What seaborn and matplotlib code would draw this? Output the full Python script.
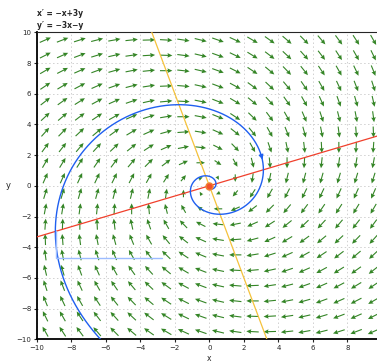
import numpy as np
import matplotlib
matplotlib.use('Agg')
import matplotlib.pyplot as plt
import seaborn as sns
import pandas as pd

# system x' = a*x + b*y, y' = c*x + d*y
coef_a, coef_b, coef_c, coef_d = -1.0, 3.0, -3.0, -1.0

# arrow grid
grid_x = np.arange(-9.5, 10, 1.0)
grid_y = np.arange(-9.5, 10, 1.0)

# trajectory start (marked with a direction arrow)
start_pt = (3.0, 2.0)

# highlighted guide line (light blue)
guide_x = [-8.9, -8.9, -2.76]
guide_y = [-2.97, -4.72, -4.72]

x_ticks = [-10, -8, -6, -4, -2, 0, 2, 4, 6, 8]
y_ticks = [-10, -8, -6, -4, -2, 0, 2, 4, 6, 8, 10]


def field(x, y):
    return coef_a * x + coef_b * y, coef_c * x + coef_d * y


def integrate(p, t_end, n=4000):
    h = t_end / n
    pts = [p]
    x, y = p
    for _ in range(n):
        k1 = field(x, y)
        k2 = field(x + h / 2 * k1[0], y + h / 2 * k1[1])
        k3 = field(x + h / 2 * k2[0], y + h / 2 * k2[1])
        k4 = field(x + h * k3[0], y + h * k3[1])
        x = x + h / 6 * (k1[0] + 2 * k2[0] + 2 * k3[0] + k4[0])
        y = y + h / 6 * (k1[1] + 2 * k2[1] + 2 * k3[1] + k4[1])
        pts.append((x, y))
    return np.array(pts)


sns.set_style('ticks')
plt.rcParams['font.family'] = ['DejaVu Sans']

fig = plt.figure(figsize=(3.77, 3.63), dpi=100)
ax = fig.add_axes([0.0973, 0.0653, 0.916, 0.8457])

# vector field
X, Y = np.meshgrid(grid_x, grid_y)
U, V = field(X, Y)
mag = np.hypot(U, V)
length = 0.72 * np.tanh(mag / 6.0)
U = U / mag * length
V = V / mag * length
ax.quiver(X, Y, U, V, color='#348526', pivot='mid', angles='xy',
          scale_units='xy', scale=1, width=0.0032, headwidth=4.2,
          headlength=4.5, headaxislength=4, zorder=2)

# nullclines
xs = np.array([-10.0, 10.0])
null_x = pd.DataFrame({'x': xs, 'y': -coef_a / coef_b * xs})
sns.lineplot(data=null_x, x='x', y='y', color='#f0402c', lw=0.9, ax=ax,
             sort=False, zorder=3)
ys = np.array([-10.0, 10.0])
null_y = pd.DataFrame({'x': -coef_d / coef_c * ys, 'y': ys})
sns.lineplot(data=null_y, x='x', y='y', color='#f5c23c', lw=0.9, ax=ax,
             sort=False, zorder=3)

# trajectory
back = integrate(start_pt, -1.3)[::-1]
fwd = integrate(start_pt, 9.0)
traj = np.vstack([back, fwd[1:]])
traj_df = pd.DataFrame({'x': traj[:, 0], 'y': traj[:, 1]})
sns.lineplot(data=traj_df, x='x', y='y', color='#1f5ff0', lw=1.0, ax=ax,
             sort=False, zorder=4)
du, dv = field(*start_pt)
nrm = np.hypot(du, dv)
ax.annotate('', xy=(start_pt[0] + du / nrm * 0.3, start_pt[1] + dv / nrm * 0.3),
            xytext=start_pt,
            arrowprops=dict(arrowstyle='-|>', color='#1f5ff0', lw=0.8,
                            mutation_scale=7), zorder=5)

ax.plot(guide_x, guide_y, color='#9cbcff', lw=1.0, zorder=4)

# equilibrium
ax.plot([0], [0], 'o', color='#f2502a', markersize=5, mec='#f08030',
        zorder=6)

ax.set_xlim(-10, 10)
ax.set_ylim(-10, 10)
ax.set_xticks(x_ticks)
ax.set_yticks(y_ticks)
ax.tick_params(labelsize=5, length=2.5, width=0.8, pad=1.5)
ax.grid(True, color='#d0d0d0', linestyle=(0, (1.5, 2.5)), lw=0.7)
for s in ['left', 'bottom']:
    ax.spines[s].set_linewidth(1.3)
    ax.spines[s].set_color('black')
ax.spines['top'].set_linewidth(0.8)
ax.spines['right'].set_visible(False)
ax.set_xlabel('x', fontsize=5.5, labelpad=2)
ax.set_ylabel('y', fontsize=6, rotation=0, labelpad=6, va='center')

fig.text(37 / 377, 1 - 13 / 363, 'x′ = −x+3y', fontsize=5.5,
         fontweight='bold', va='center')
fig.text(37 / 377, 1 - 25 / 363, 'y′ = −3x−y', fontsize=5.5,
         fontweight='bold', va='center')

fig.savefig('out.png', dpi=100)
